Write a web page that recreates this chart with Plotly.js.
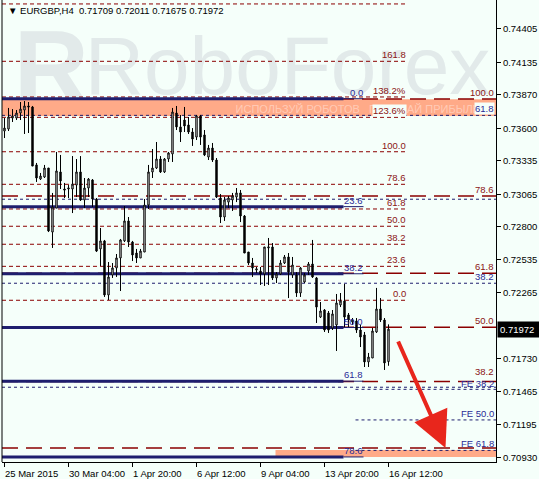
<!DOCTYPE html>
<html><head><meta charset="utf-8">
<script src="https://cdn.plot.ly/plotly-3.0.1.min.js"></script>
<style>html,body{margin:0;padding:0;background:#F5FFFA;}#chart{width:539px;height:479px;}</style>
</head><body><div id="chart"></div>
<script>
// ---- candles (EURGBP H4) ----
const openP = [
0.73578,0.73594,0.73683,0.73683,0.73724,0.73748,0.73781,0.73773,0.73303,0.73189,
0.73205,0.73278,0.72759,0.72954,0.73246,0.73108,0.73108,0.73108,0.73140,0.73246,
0.73019,0.73116,0.73181,0.73027,0.72622,0.72687,0.72249,0.72411,0.72468,0.72549,
0.72687,0.72849,0.72678,0.72589,0.72549,0.72597,0.72978,0.73246,0.73278,0.73351,
0.73246,0.73351,0.73392,0.73724,0.73611,0.73667,0.73627,0.73570,0.73529,0.73700,
0.73546,0.73367,0.73440,0.73343,0.73035,0.72881,0.73002,0.73019,0.73043,0.73076,
0.72889,0.72597,0.72508,0.72451,0.72443,0.72419,0.72630,0.72638,0.72387,0.72419,
0.72508,0.72557,0.72411,0.72411,0.72265,0.72354,0.72443,0.72500,0.72387,0.72070,
0.72127,0.72103,0.71981,0.72006,0.72168,0.72200,0.72087,0.72030,0.72038,0.71965,
0.71925,0.71706,0.71738,0.71949,0.72135,0.72046,0.71709];
const highP = [
0.73683,0.73765,0.73756,0.73748,0.73813,0.73821,0.73813,0.73781,0.73319,0.73238,
0.73303,0.73278,0.73076,0.73408,0.73384,0.73157,0.73140,0.73375,0.73351,0.73375,
0.73197,0.73197,0.73189,0.73035,0.72792,0.72695,0.72516,0.72508,0.72581,0.72703,
0.72970,0.72881,0.72687,0.72622,0.72622,0.73027,0.73303,0.73432,0.73489,0.73375,
0.73359,0.73408,0.73765,0.73781,0.73708,0.73773,0.73692,0.73602,0.73708,0.73708,
0.73586,0.73465,0.73481,0.73359,0.73067,0.73043,0.73051,0.73076,0.73116,0.73100,
0.72897,0.72597,0.72549,0.72476,0.72476,0.72638,0.72711,0.72670,0.72435,0.72532,
0.72573,0.72589,0.72557,0.72435,0.72476,0.72427,0.72516,0.72695,0.72395,0.72192,
0.72135,0.72119,0.72127,0.72257,0.72265,0.72338,0.72103,0.72062,0.72062,0.72006,
0.71949,0.71779,0.71981,0.72306,0.72224,0.72062,0.72011];
const lowP = [
0.73521,0.73578,0.73651,0.73667,0.73667,0.73554,0.73562,0.73294,0.73165,0.73181,
0.73197,0.72759,0.72630,0.72954,0.73108,0.73035,0.73035,0.72913,0.73043,0.73011,
0.72954,0.73043,0.72962,0.72597,0.72484,0.72233,0.72208,0.72387,0.72395,0.72281,
0.72678,0.72638,0.72524,0.72508,0.72549,0.72597,0.72946,0.73197,0.73270,0.73238,
0.73238,0.73327,0.73327,0.73586,0.73489,0.73570,0.73554,0.73457,0.73505,0.73465,
0.73375,0.73343,0.73327,0.73035,0.72832,0.72849,0.72954,0.72930,0.73002,0.72840,
0.72589,0.72492,0.72395,0.72427,0.72330,0.72322,0.72330,0.72370,0.72346,0.72411,
0.72500,0.72224,0.72387,0.72233,0.72233,0.72346,0.72411,0.72387,0.72022,0.72062,
0.71949,0.71941,0.71965,0.71795,0.72151,0.71989,0.71989,0.72006,0.71941,0.71827,
0.71665,0.71665,0.71738,0.71941,0.72030,0.71641,0.71675];
const closeP = [
0.73602,0.73692,0.73700,0.73724,0.73756,0.73781,0.73773,0.73294,0.73197,0.73213,
0.73278,0.72768,0.72962,0.73254,0.73173,0.73100,0.73116,0.73148,0.73246,0.73019,
0.73116,0.73189,0.73027,0.72605,0.72687,0.72249,0.72395,0.72468,0.72549,0.72695,
0.72849,0.72678,0.72573,0.72549,0.72605,0.72978,0.73246,0.73278,0.73351,0.73246,
0.73351,0.73400,0.73732,0.73611,0.73570,0.73619,0.73570,0.73513,0.73700,0.73529,
0.73384,0.73440,0.73343,0.73043,0.72881,0.73019,0.73035,0.73051,0.73076,0.72889,
0.72589,0.72508,0.72468,0.72460,0.72419,0.72638,0.72638,0.72387,0.72419,0.72508,
0.72557,0.72435,0.72492,0.72265,0.72468,0.72411,0.72500,0.72395,0.72151,0.72119,
0.71965,0.71965,0.72095,0.72184,0.72200,0.72070,0.72046,0.72046,0.71965,0.71908,
0.71706,0.71746,0.71957,0.72135,0.72046,0.71698,0.71972];

// ---- axes ----
const xTickIdx  = [0, 16, 32, 48, 64, 80, 96];
const xTickText = ["25 Mar 2015","30 Mar 04:00","1 Apr 20:00","6 Apr 12:00","9 Apr 04:00","13 Apr 20:00","16 Apr 12:00"];
const yTickVals = [0.70930,0.71195,0.71465,0.71730,0.72265,0.72535,0.72800,0.73065,0.73335,0.73600,0.73870,0.74135,0.74405];

// ---- Fibonacci levels (prices) ----
const fibALevels = [0.74608,0.74143,0.73854,0.73689,0.73410,0.73146,0.72946,0.72806,0.72660,0.72481,0.72206];
const fibALabels = ["","161.8","138.2%","123.6%","100.0","78.6","61.8","50.0","38.2","23.6","0.0"];
const fibBLevels = [0.73838,0.73051,0.72425,0.71987,0.71548,0.71009];
const fibBLabels = ["100.0","78.6","61.8","50.0","38.2",""];
const fibCLevels = [0.73840,0.72965,0.72421,0.71985,0.71550,0.70936];
const fibCLabels = ["0.0","23.6","38.2","50.0","61.8","78.6"];
const fibDLevels = [0.73705,0.73025,0.72344,0.71501];
const fibDLabels = ["61.8","","38.2",""];
const feLevels = [0.71484,0.71236,0.70989];
const feLabels = ["FE 38.2","FE 50.0","FE 61.8"];
const zoneTop = [0.73700, 0.73835];
const zoneBottom = [0.70936, 0.70992];
const arrowBars = [98.25, 110.25];
const arrowPrices = [0.71884, 0.71009];
const titleText = "\u25BC EURGBP,H4  0.71709 0.72011 0.71675 0.71972";

const FONT = "Liberation Sans, Arial, sans-serif";
const RED = "#8B0000", REDT = "#8B1414", BLUE = "#1E1E6E", BLUET = "#2A2A96", BG = "#F5FFFA";
const idx = openP.map((_, i) => i);
const X0 = -0.625, X1 = 122.875;

const shapes = [];
const ann = [];
function hline(y, x0, x1, xref, color, width, dash) {
  shapes.push({type:'line', xref:xref, yref:'y', x0:x0, x1:x1, y0:y, y1:y, layer:'below',
    line:{color:color, width:width, dash:dash}});
}
function label(x, xref, y, text, color, bg, xshift, yshift) {
  if (!text) return;
  const a = {x:x, xref:xref, y:y, yref:'y', text:text, showarrow:false, xanchor:'right', yanchor:'bottom',
    font:{family:FONT, size:9.5, color:color}, borderpad:0, xshift:xshift||0, yshift:yshift||0};
  if (bg) a.bgcolor = bg;
  ann.push(a);
}

// watermark
shapes.push({type:'rect', xref:'paper', yref:'paper', x0:0.02, x1:0.18, y0:0.79, y1:0.965, layer:'below',
  line:{width:0}, fillcolor:'rgba(0,0,0,0)',
  label:{text:'R', textposition:'middle center', font:{family:FONT, size:104, color:'#E2EAEA', weight:700}}});
shapes.push({type:'rect', xref:'paper', yref:'paper', x0:0.188, x1:0.968, y0:0.79, y1:0.96, layer:'below',
  line:{width:0}, fillcolor:'rgba(0,0,0,0)',
  label:{text:'RoboForex', textposition:'middle center', font:{family:FONT, size:82, color:'#E2EAEA'}}});

// zones
shapes.push({type:'rect', xref:'paper', yref:'y', x0:0, x1:1, y0:zoneTop[0], y1:zoneTop[1], layer:'below',
  line:{width:0}, fillcolor:'#FFAA88'});
shapes.push({type:'rect', xref:'x', yref:'y', x0:67.75, x1:X1, y0:zoneBottom[0], y1:zoneBottom[1], layer:'below',
  line:{width:0}, fillcolor:'#FFAA88'});
shapes.push({type:'rect', xref:'paper', yref:'y', x0:0.47, x1:0.97, y0:zoneTop[0], y1:zoneTop[1], layer:'below',
  line:{width:0}, fillcolor:'rgba(0,0,0,0)',
  label:{text:'ИСПОЛЬЗУЙ РОБОТОВ   ПОЛУЧАЙ ПРИБЫЛЬ', textposition:'middle center',
    font:{family:FONT, size:11, color:'rgba(255,255,255,0.4)'}}});

// fib A: red short dash, left part
fibALevels.forEach((v, i) => { hline(v, X0, 100.5, 'x', RED, 1, '4px,3px');
  label(100.5, 'x', v, fibALabels[i], REDT, (fibALabels[i] === '123.6%') ? BG : null); });
// fib B: red long dash, full width
fibBLevels.forEach((v, i) => { hline(v, 0, 1, 'paper', RED, 1.5, '16px,8px');
  label(1, 'paper', v, fibBLabels[i], REDT, null, -1, (fibBLabels[i] === '38.2') ? 3 : 0); });
// fib D: blue short dash, full width
fibDLevels.forEach((v, i) => { hline(v, 0, 1, 'paper', BLUE, 1, '3px,3px');
  label(1, 'paper', v, fibDLabels[i], BLUET, (i === 0) ? BG : null, -1); });
// FE: blue short dash, right part
feLevels.forEach((v, i) => { hline(v, 87.75, X1, 'x', BLUE, 1, '3px,3px');
  label(1, 'paper', v, feLabels[i], BLUET, null, -1, (i === 0) ? -1 : 0); });
// fib C: blue thick
fibCLevels.forEach((v, i) => { hline(v, X0, 84.75, 'x', BLUE, 3, 'solid');
  hline(v, 84.75, 89.75, 'x', BLUE, 1, 'solid');
  label(89.75, 'x', v, fibCLabels[i], BLUET, null); });

// left border
shapes.push({type:'line', xref:'paper', yref:'paper', x0:0, x1:0, y0:0, y1:1, line:{color:'#000', width:1}});

// x tick labels (left-aligned as in terminal)
xTickIdx.forEach((v, i) => ann.push({x:v, xref:'x', y:0, yref:'paper', yanchor:'top', xanchor:'left',
  yshift:-4, xshift:-2, text:xTickText[i], showarrow:false, font:{family:FONT, size:9.5, color:'#000'}}));

// title
ann.push({x:0.008, xref:'paper', y:0.977, yref:'paper', xanchor:'left', yanchor:'middle', text:titleText,
  showarrow:false, font:{family:FONT, size:9.5, color:'#000'}});

// current price
const lastClose = closeP[closeP.length - 1];
ann.push({x:1, xref:'paper', y:lastClose, yref:'y', xanchor:'left', yanchor:'middle', xshift:1,
  text:lastClose.toFixed(5) + ' ', showarrow:false, bgcolor:'#000', borderpad:2,
  font:{family:FONT, size:9.5, color:'#fff'}});

// forecast arrow
ann.push({x:arrowBars[1], y:arrowPrices[1], xref:'x', yref:'y', ax:arrowBars[0], ay:arrowPrices[0],
  axref:'x', ayref:'y', text:'', showarrow:true, arrowhead:2, arrowsize:1.8, arrowwidth:4,
  arrowcolor:'#E8261C', standoff:0, startstandoff:0});

const trace = {type:'candlestick', x:idx, open:openP, high:highP, low:lowP, close:closeP,
  increasing:{line:{color:'#000', width:1}, fillcolor:'#FFFFFF'},
  decreasing:{line:{color:'#000', width:1}, fillcolor:'#000000'},
  whiskerwidth:0, hoverinfo:'skip', showlegend:false};

const layout = {
  width:539, height:479, margin:{l:2, r:43, t:0, b:17},
  paper_bgcolor:BG, plot_bgcolor:BG, showlegend:false, hovermode:false, boxgap:0.5,
  xaxis:{range:[X0, X1], showgrid:false, zeroline:false, showline:true, linecolor:'#000', linewidth:1,
    ticks:'outside', ticklen:4, tickcolor:'#000', tickvals:xTickIdx, showticklabels:false,
    rangeslider:{visible:false}, fixedrange:true},
  yaxis:{side:'right', range:[0.70895,0.74640], showgrid:false, zeroline:false, showline:true,
    linecolor:'#000', linewidth:1, ticks:'outside', ticklen:4, tickcolor:'#000',
    tickvals:yTickVals, ticktext:yTickVals.map(v => v.toFixed(5)),
    tickfont:{family:FONT, size:9.5, color:'#000'}, fixedrange:true},
  shapes:shapes, annotations:ann
};
Plotly.newPlot('chart', [trace], layout, {displayModeBar:false, staticPlot:true});
</script>
</body></html>
